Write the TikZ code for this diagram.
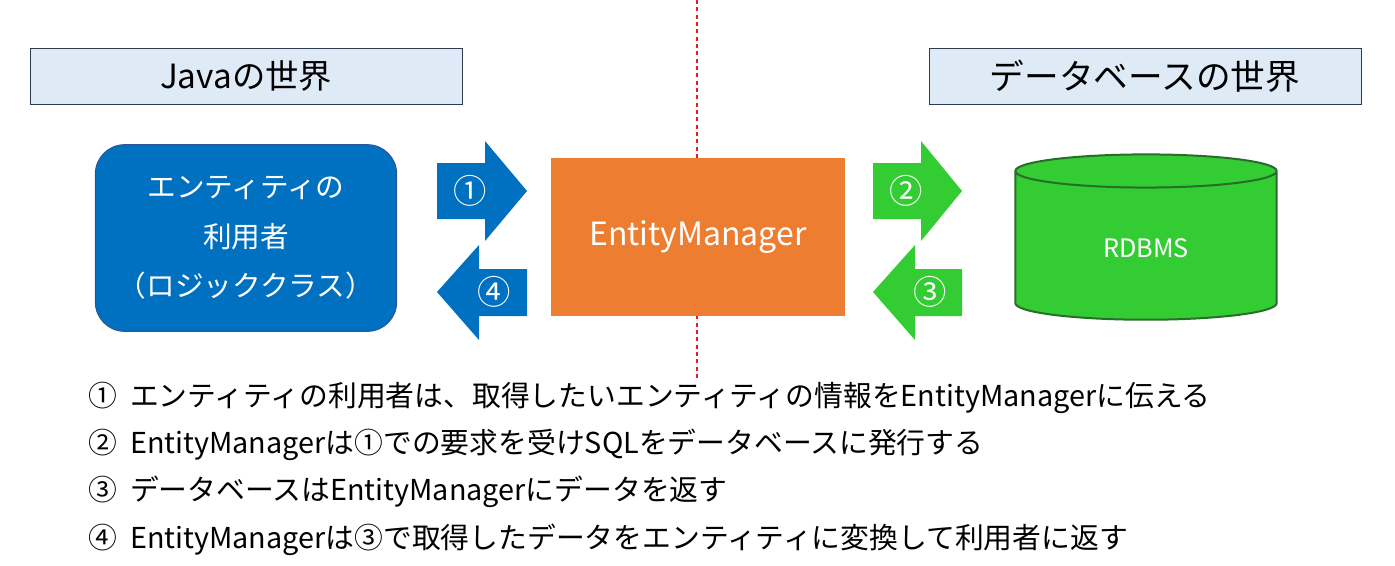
\documentclass[tikz,border=0pt]{standalone}
\usepackage{fontspec}
\setmainfont{Noto Sans CJK JP}
\usetikzlibrary{shapes.geometric}
\definecolor{hdrfill}{RGB}{222,235,247}
\definecolor{hdrline}{RGB}{47,60,80}
\definecolor{userblue}{RGB}{0,112,192}
\definecolor{userline}{RGB}{46,84,150}
\definecolor{emorange}{RGB}{237,125,49}
\definecolor{dbgreen}{RGB}{51,204,51}
\definecolor{dbline}{RGB}{40,110,40}
\definecolor{splitred}{RGB}{230,30,30}
\tikzset{every picture/.style={line width=0.75pt}}
\tikzset{
  header/.style={draw=hdrline,fill=hdrfill,minimum width=324pt,minimum height=42pt},
  num/.style={text=white,font=\fontsize{25}{28}\selectfont},
  note/.style={anchor=west,inner sep=0pt,font=\fontsize{21.6}{26}\selectfont}
}
\begin{document}
\begin{tikzpicture}[x=0.75pt,y=0.75pt,yscale=-1,xscale=1]
\useasboundingbox (0,0) rectangle (1395,565);

% boundary line
\draw [draw=splitred,line width=1.2pt,dash pattern={on 3pt off 2.5pt}] (697,0) -- (697,378);

% Headers
\node [header,font=\fontsize{25}{30}\selectfont] (java) at (246,76) {Javaの世界};
\node [header,font=\fontsize{26}{30}\selectfont] (dbw) at (1145,76) {データベースの世界};

% User
\node [draw=userline,fill=userblue,rounded corners=22pt,minimum width=226pt,minimum height=140pt,text=white,align=center,font=\fontsize{21.5}{37}\selectfont] (user) at (246,238) {エンティティの\\利用者\\（ロジッククラス）};

% EntityManager
\node [fill=emorange,minimum width=221pt,minimum height=118pt,text=white,font=\fontsize{24}{28}\selectfont] (em) at (698,237) {\raisebox{-3pt}{EntityManager}};

% Arrows
\fill [userblue] (437,163) -- (485,163) -- (485,141) -- (527,191) -- (485,241) -- (485,219) -- (437,219) -- cycle;
\node [num] (n1) at (470,191) {①};
\fill [userblue] (527,269) -- (479,269) -- (479,245) -- (437,292) -- (479,340) -- (479,316) -- (527,316) -- cycle;
\node [num] (n4) at (494,292) {④};
\fill [dbgreen] (873,163) -- (921,163) -- (921,141) -- (962,191) -- (921,241) -- (921,219) -- (873,219) -- cycle;
\node [num] (n2) at (906,191) {②};
\fill [dbgreen] (962,269) -- (915,269) -- (915,245) -- (873,292) -- (915,340) -- (915,316) -- (962,316) -- cycle;
\node [num] (n3) at (930,292) {③};

% Database
\node [cylinder,shape border rotate=90,draw=dbline,line width=1.5pt,fill=dbgreen,aspect=0.35,minimum width=196pt,minimum height=124pt,text=white,font=\fontsize{19}{22}\selectfont] (db) at (1146,248) {RDBMS};

% Notes
\node [note] (l1) at (88,398) {①\ \ エンティティの利用者は、取得したいエンティティの情報をEntityManagerに伝える};
\node [note] (l2) at (88,445) {②\ \ EntityManagerは①での要求を受けSQLをデータベースに発行する};
\node [note] (l3) at (88,492) {③\ \ データベースはEntityManagerにデータを返す};
\node [note] (l4) at (88,540) {④\ \ EntityManagerは③で取得したデータをエンティティに変換して利用者に返す};
\end{tikzpicture}
\end{document}
